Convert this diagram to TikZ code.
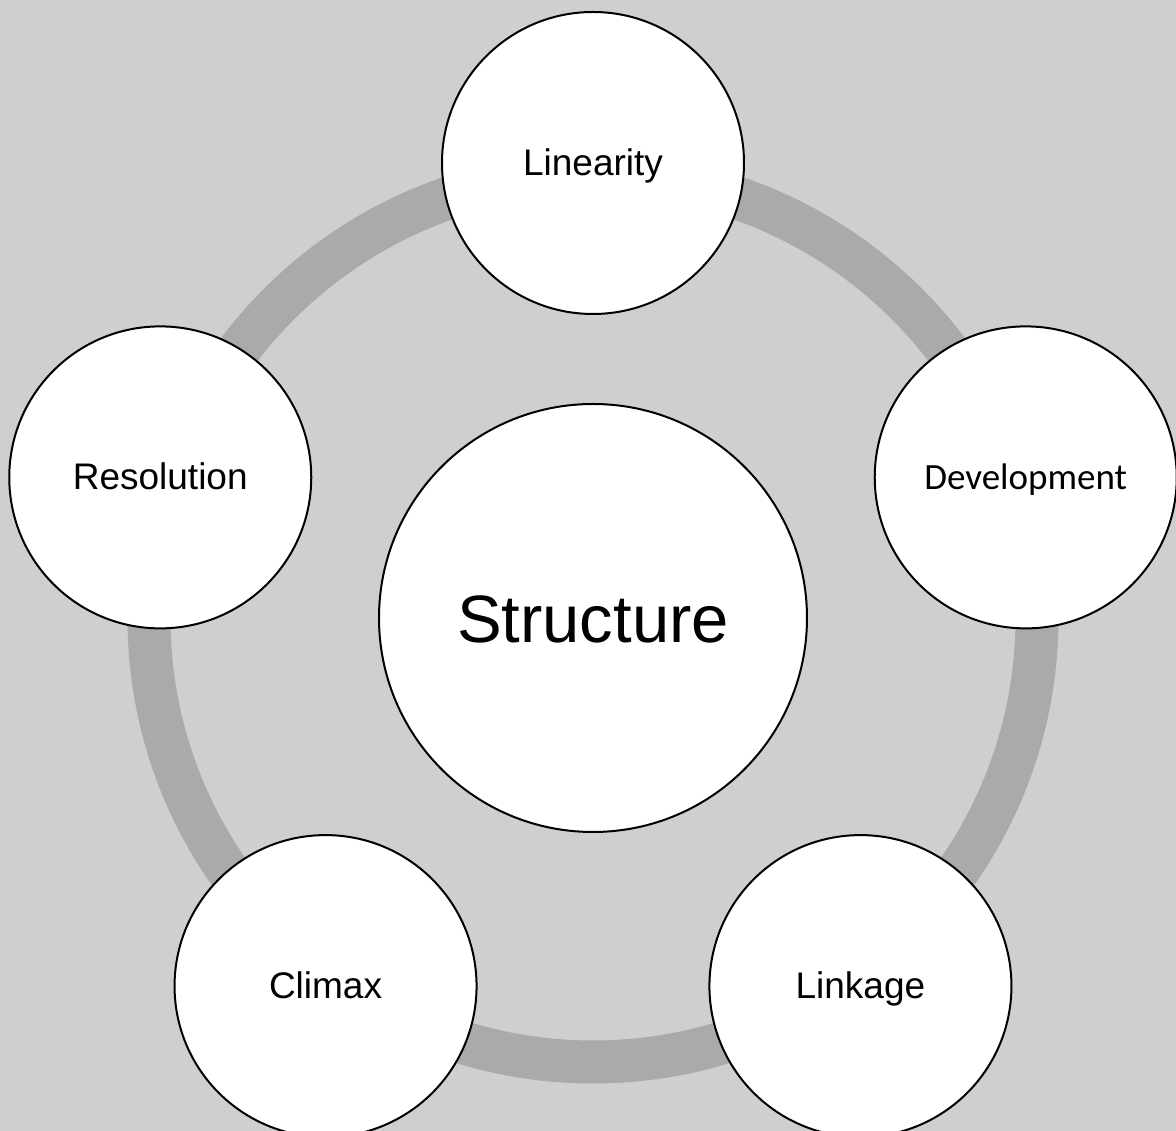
\documentclass[tikz,border=0pt]{standalone}
\usepackage{fontspec}
\setmainfont{Liberation Sans}
\newfontfamily\calibrilike{Carlito}
\usepackage{tikz}
\usepackage{xcolor}
\definecolor{pagegray}{RGB}{208,207,208}
\definecolor{ringgray}{RGB}{170,170,170}

\begin{document}
\begin{tikzpicture}[x=1pt, y=1pt,
    bubble/.style={circle, draw=black, line width=2pt, fill=white,
        minimum size=302pt, inner sep=0pt, text height=33pt, text depth=8.5pt,
        font=\fontsize{37}{44}\selectfont},
    hubcircle/.style={circle, draw=black, line width=2pt, fill=white,
        minimum size=428pt, inner sep=0pt, text height=63pt, text depth=14pt,
        font=\fontsize{67}{80}\selectfont}]

    % Background
    \fill[pagegray] (-593,-513) rectangle (583,618);
    \useasboundingbox (-593,-513) rectangle (583,618);

    % Ring behind the circles
    \coordinate (mid) at (0,0);
    \draw[ringgray, line width=43pt] (mid) circle (444pt);

    % Centre
    \node[hubcircle] (structure) at (mid) {Structure};

    % Stages round the ring
    \node[bubble] (linearity) at (90:455) {Linearity};
    \node[bubble, font=\calibrilike\fontsize{37}{44}\selectfont] (development) at (18:455) {Development};
    \node[bubble] (linkage) at (-54:455) {Linkage};
    \node[bubble] (climax) at (-126:455) {Climax};
    \node[bubble] (resolution) at (162:455) {Resolution};
\end{tikzpicture}
\end{document}
